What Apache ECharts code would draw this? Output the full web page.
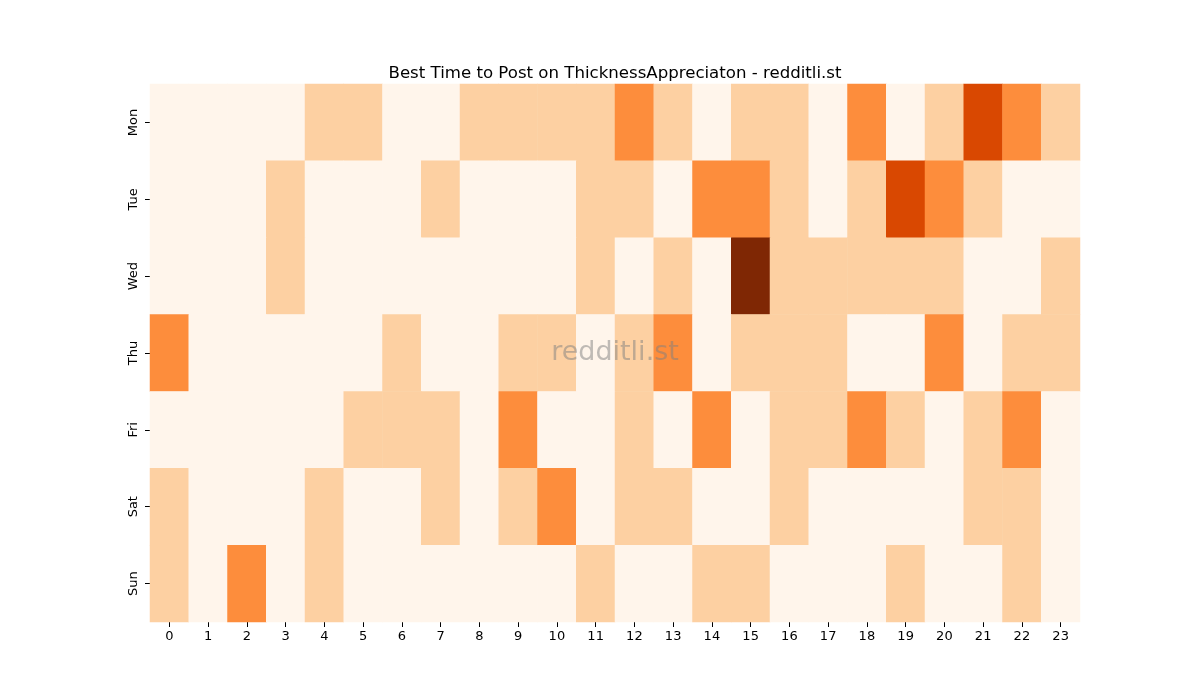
<!DOCTYPE html>
<html>
<head>
<meta charset="utf-8">
<script src="https://cdn.jsdelivr.net/npm/echarts@6/dist/echarts.min.js"></script>
<style>
  html, body { margin: 0; padding: 0; background: #fff; }
  #chart { width: 1200px; height: 700px; }
</style>
</head>
<body>
<div id="chart"></div>
<script>
// hours along the x axis, days down the y axis
const hours = ['0','1','2','3','4','5','6','7','8','9','10','11','12','13','14','15','16','17','18','19','20','21','22','23'];
const days = ['Mon', 'Tue', 'Wed', 'Thu', 'Fri', 'Sat', 'Sun'];

// activity level per hour (0 = lowest .. 4 = highest)
const mon = [0,0,0,0,1,1,0,0,1,1,1,1,2,1,0,1,1,0,2,0,1,3,2,1];
const tue = [0,0,0,1,0,0,0,1,0,0,0,1,1,0,2,2,1,0,1,3,2,1,0,0];
const wed = [0,0,0,1,0,0,0,0,0,0,0,1,0,1,0,4,1,1,1,1,1,0,0,1];
const thu = [2,0,0,0,0,0,1,0,0,1,1,0,1,2,0,1,1,1,0,0,2,0,1,1];
const fri = [0,0,0,0,0,1,1,1,0,2,0,0,1,0,2,0,1,1,2,1,0,1,2,0];
const sat = [1,0,0,0,1,0,0,1,0,1,2,0,1,1,0,0,1,0,0,0,0,1,1,0];
const sun = [1,0,2,0,1,0,0,0,0,0,0,1,0,0,1,1,0,0,0,1,0,0,1,0];

const rows = [mon, tue, wed, thu, fri, sat, sun];
const data = [];
rows.forEach((row, d) => {
  row.forEach((v, h) => data.push([h, d, v]));
});

const chart = echarts.init(document.getElementById('chart'));
chart.setOption({
  animation: false,
  title: {
    text: 'Best Time to Post on ThicknessAppreciaton - redditli.st',
    left: 610,
    textAlign: 'center',
    top: 60,
    textStyle: { fontFamily: 'DejaVu Sans', fontSize: 16.6, fontWeight: 'normal', color: '#000' }
  },
  grid: { left: 150, top: 84, right: 120, bottom: 78 },
  xAxis: {
    type: 'category',
    data: hours,
    splitArea: { show: false },
    axisLine: { show: false },
    axisTick: { show: true, alignWithLabel: true, length: 5, lineStyle: { color: '#000' } },
    axisLabel: { fontFamily: 'DejaVu Sans', fontSize: 13, color: '#000', margin: 8 }
  },
  yAxis: {
    type: 'category',
    data: days,
    inverse: true,
    axisLine: { show: false },
    axisTick: { show: true, alignWithLabel: true, length: 5, lineStyle: { color: '#000' } },
    axisLabel: { fontFamily: 'DejaVu Sans', fontSize: 13, color: '#000', rotate: 90, margin: 10 }
  },
  visualMap: {
    type: 'piecewise',
    show: false,
    dimension: 2,
    pieces: [
      { value: 0, color: '#fff5eb' },
      { value: 1, color: '#fdd0a2' },
      { value: 2, color: '#fd8d3c' },
      { value: 3, color: '#d94801' },
      { value: 4, color: '#7f2704' }
    ]
  },
  graphic: [{
    type: 'text',
    x: 615,
    y: 353,
    z: 100,
    style: {
      text: 'redditli.st',
      font: '27px "DejaVu Sans"',
      fill: 'rgba(128,128,128,0.5)',
      align: 'center',
      verticalAlign: 'middle'
    }
  }],
  series: [{
    type: 'heatmap',
    data: data,
    itemStyle: { borderWidth: 0 },
    emphasis: { disabled: true }
  }]
});
</script>
</body>
</html>
